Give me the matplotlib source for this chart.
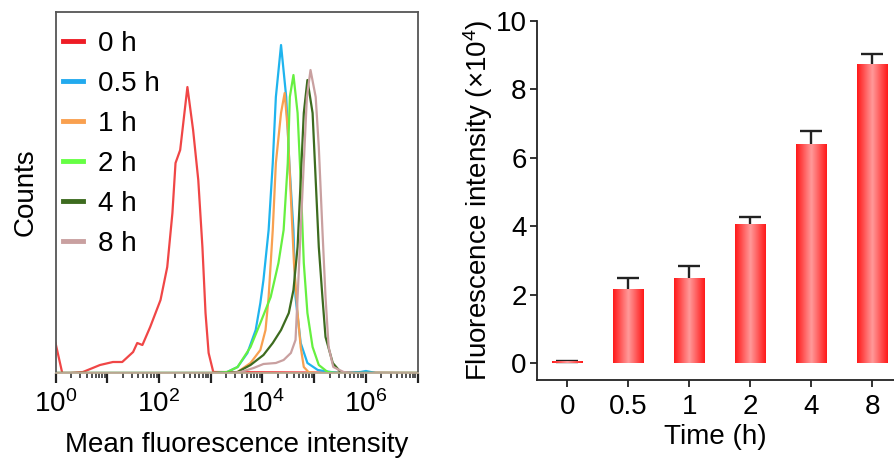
import numpy as np
import matplotlib
matplotlib.use("Agg")
import matplotlib.pyplot as plt
from matplotlib.colors import LinearSegmentedColormap
from matplotlib.ticker import LogLocator, FixedLocator, NullFormatter, FuncFormatter

plt.rcParams['font.family'] = ['Liberation Sans', 'DejaVu Sans']
plt.rcParams['mathtext.fontset'] = 'custom'
plt.rcParams['mathtext.rm'] = 'Liberation Sans'
plt.rcParams['mathtext.it'] = 'Liberation Sans:italic'

# ---------------- Histogram data (log10 MFI, counts) ----------------
series_labels = ['0 h', '0.5 h', '1 h', '2 h', '4 h', '8 h']
series_colors = ['#f04646', '#1fb4ee', '#f8a050', '#66f040', '#3d6b1f', '#c9a0a0']
legend_colors = ['#ee1c25', '#22aaee', '#f9a04f', '#66ff44', '#3d6b1f', '#c9a0a0']

log_0h = [0.00, 0.13, 0.28, 0.53, 0.86, 1.11, 1.29, 1.50, 1.58, 1.68, 1.83, 2.03, 2.16, 2.26,
          2.32, 2.41, 2.47, 2.55, 2.66, 2.76, 2.84, 2.90, 2.96, 3.05, 7.0]
cnt_0h = [30, 0, 0, 1, 8, 11, 11, 21, 30, 28, 46, 73, 106, 160,
          210, 223, 250, 286, 243, 193, 126, 60, 20, 1, 0]

log_05h = [0.0, 3.10, 3.32, 3.52, 3.71, 3.87, 3.96, 4.02, 4.12, 4.20, 4.26, 4.36,
           4.46, 4.52, 4.60, 4.64, 4.74, 4.87, 5.07, 5.32, 5.51, 5.90, 6.00, 6.19, 7.0]
cnt_05h = [0, 0, 1, 6, 20, 43, 70, 93, 143, 210, 276, 328,
           276, 210, 143, 76, 30, 10, 3, 1, 0, 1, 2, 0, 0]

log_1h = [0.0, 3.30, 3.52, 3.77, 3.96, 4.06, 4.12, 4.20, 4.26, 4.36, 4.43,
          4.49, 4.55, 4.61, 4.68, 4.74, 4.80, 4.89, 5.03, 7.0]
cnt_1h = [0, 0, 1, 10, 23, 43, 76, 143, 210, 260, 280,
          243, 176, 110, 60, 26, 6, 1, 0, 0]

log_2h = [0.0, 3.10, 3.32, 3.52, 3.77, 3.96, 4.16, 4.31, 4.41, 4.49, 4.53, 4.60,
          4.68, 4.74, 4.80, 4.87, 4.97, 5.09, 5.26, 5.42, 7.0]
cnt_2h = [0, 0, 1, 6, 26, 50, 76, 110, 143, 210, 276, 298,
          260, 193, 110, 60, 26, 8, 1, 0, 0]

log_4h = [0.0, 3.30, 3.52, 3.77, 4.02, 4.20, 4.36, 4.51, 4.60, 4.68, 4.74, 4.80, 4.87,
          4.97, 5.03, 5.09, 5.16, 5.22, 5.36, 5.51, 5.71, 7.0]
cnt_4h = [0, 0, 1, 8, 18, 30, 43, 60, 83, 126, 193, 260, 293,
          260, 193, 126, 76, 36, 10, 1, 0, 0]

log_8h = [0.0, 3.35, 3.58, 3.83, 4.02, 4.26, 4.41, 4.55, 4.64, 4.68, 4.74, 4.80, 4.86, 4.93,
          5.03, 5.09, 5.16, 5.22, 5.28, 5.37, 5.57, 5.80, 7.0]
cnt_8h = [0, 0, 1, 5, 9, 10, 13, 20, 33, 76, 143, 210, 276, 303,
          276, 226, 143, 76, 26, 6, 1, 0, 0]

hist_logs = [log_0h, log_05h, log_1h, log_2h, log_4h, log_8h]
hist_cnts = [cnt_0h, cnt_05h, cnt_1h, cnt_2h, cnt_4h, cnt_8h]

# ---------------- Bar data ----------------
time_labels = ['0', '0.5', '1', '2', '4', '8']
intensity = [0.05, 2.16, 2.49, 4.06, 6.39, 8.75]
intensity_err = [0.02, 0.31, 0.35, 0.22, 0.39, 0.29]

FS = 20

fig = plt.figure(figsize=(8.94, 4.61), dpi=100)

# ---------------- Left panel ----------------
ax1 = fig.add_axes([0.0621, 0.1909, 0.405, 0.783])
for lg, ct, col in zip(hist_logs, hist_cnts, series_colors):
    ax1.plot(10 ** np.array(lg), ct, color=col, lw=1.6, solid_joinstyle='round')
ax1.set_xscale('log')
ax1.set_xlim(1, 1e7)
ax1.set_ylim(0, 361)
ax1.xaxis.set_major_locator(FixedLocator([10.0 ** k for k in range(0, 8)]))


def fmt_major(v, pos):
    k = int(round(np.log10(v)))
    return r'$10^{%d}$' % k if k % 2 == 0 and k < 7 else ''


ax1.xaxis.set_major_formatter(FuncFormatter(fmt_major))
ax1.xaxis.set_minor_locator(LogLocator(base=10, subs=np.arange(2, 10), numticks=20))
ax1.xaxis.set_minor_formatter(NullFormatter())
ax1.tick_params(axis='x', which='major', direction='out', length=7.5, width=1.6,
                labelsize=FS, pad=5, color='#222222')
ax1.tick_params(axis='x', which='minor', direction='out', length=3.5, width=1.1, color='#222222')
ax1.set_yticks([])
for s in ax1.spines.values():
    s.set_color('#555555')
    s.set_linewidth(1.3)
ax1.spines['bottom'].set_color('#b8a890')
ax1.set_xlabel('Mean fluorescence intensity', fontsize=FS, labelpad=10)
ax1.set_ylabel('Counts', fontsize=FS, labelpad=12.5)

handles = [plt.Line2D([], [], color=c, lw=3.5) for c in legend_colors]
leg = ax1.legend(handles, series_labels, loc='upper left', frameon=False, fontsize=FS,
                 handlelength=0.72, handletextpad=0.55, labelspacing=0.5,
                 bbox_to_anchor=(0.021, 0.947), borderaxespad=0.0, borderpad=0.0)

# ---------------- Right panel ----------------
ax2 = fig.add_axes([0.6007, 0.1757, 0.3993, 0.7787])
xpos = np.arange(len(time_labels))
ax2.errorbar(xpos, intensity, yerr=intensity_err, fmt='none',
             ecolor='#222222', elinewidth=1.7, capsize=8, capthick=1.7, zorder=1)
bars = ax2.bar(xpos, intensity, width=0.5, color='#ff4444', linewidth=0, zorder=2)
cmap = LinearSegmentedColormap.from_list('g', ['#ff1a1a', '#ff9a9a', '#ff1a1a'])
grad = np.linspace(0, 1, 64).reshape(1, -1)
for b in bars:
    x0, y0 = b.get_x(), b.get_y()
    w, h = b.get_width(), b.get_height()
    im = ax2.imshow(grad, cmap=cmap, aspect='auto', extent=(x0, x0 + w, y0, y0 + h),
                    zorder=3, interpolation='bilinear')
    im.set_clip_path(b)
ax2.set_xlim(-0.5, 5.36)
ax2.set_ylim(-0.5, 10)
ax2.set_xticks(xpos)
ax2.set_xticklabels(time_labels)
ax2.set_yticks([0, 2, 4, 6, 8, 10])
ax2.tick_params(axis='both', direction='out', length=5, width=1.3, labelsize=FS, color='#222222')
ax2.tick_params(axis='x', pad=5)
ax2.tick_params(axis='y', pad=2.5)
ax2.spines['top'].set_visible(False)
ax2.spines['right'].set_visible(False)
for s in ['left', 'bottom']:
    ax2.spines[s].set_linewidth(1.3)
    ax2.spines[s].set_color('#222222')
ax2.set_xlabel('Time (h)', fontsize=FS, labelpad=3)
ax2.set_ylabel(r'Fluorescence intensity (×10$^4$)', fontsize=FS, labelpad=0.5)

fig.savefig('out.png', dpi=100)
